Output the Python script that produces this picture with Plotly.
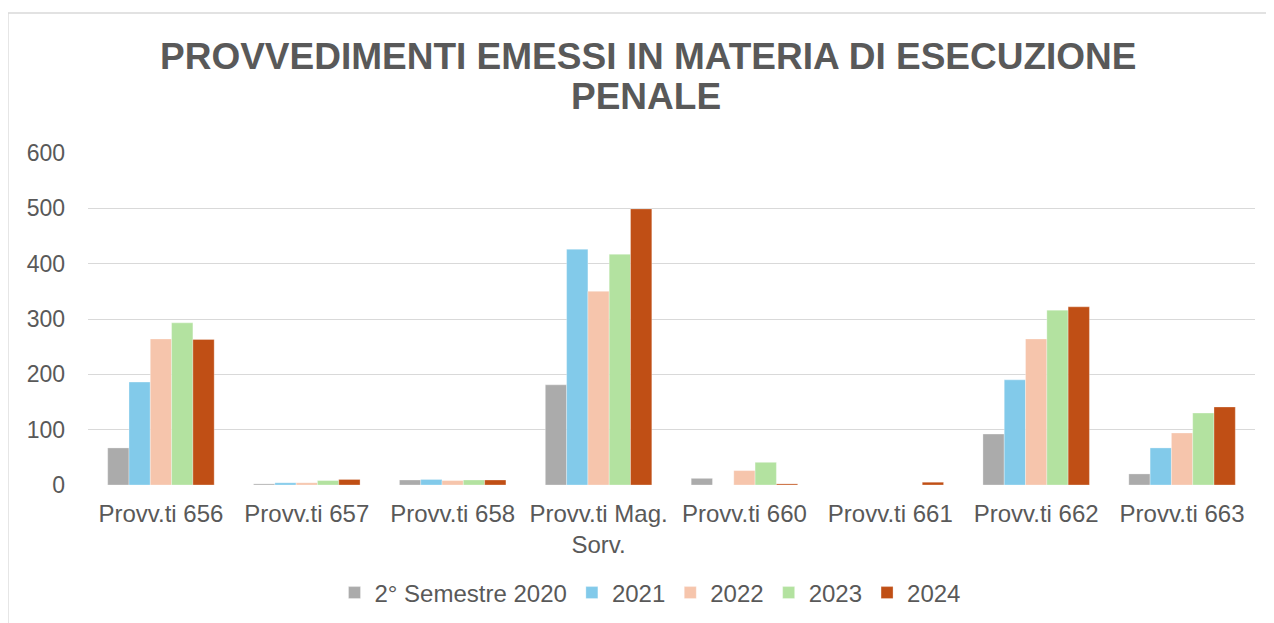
import plotly.graph_objects as go

categories = ["Provv.ti 656", "Provv.ti 657", "Provv.ti 658", "Provv.ti Mag.<br>Sorv.",
              "Provv.ti 660", "Provv.ti 661", "Provv.ti 662", "Provv.ti 663"]
series_names = ["2° Semestre 2020", "2021", "2022", "2023", "2024"]
s2020 = [67, 2, 9, 181, 12, 0, 92, 20]
s2021 = [186, 4, 10, 426, 0, 0, 190, 67]
s2022 = [264, 4, 8, 350, 26, 0, 264, 94]
s2023 = [293, 8, 9, 417, 41, 0, 316, 130]
s2024 = [263, 10, 9, 499, 2, 5, 322, 141]
values = [s2020, s2021, s2022, s2023, s2024]
colors = ["#ABABAB", "#82CAEA", "#F6C5AC", "#B3E2A0", "#C04F15"]
y_ticks = [0, 100, 200, 300, 400, 500, 600]
title_lines = ["PROVVEDIMENTI EMESSI IN MATERIA DI ESECUZIONE", "PENALE"]

FONT = "Liberation Sans, Arial, sans-serif"
TXT = "#595959"

fig = go.Figure()
for name, vals, col in zip(series_names, values, colors):
    fig.add_trace(go.Bar(x=categories, y=vals, name=name,
                         marker=dict(color=col, line=dict(color="rgba(255,255,255,0.6)", width=0.5))))

# page has an 8px body margin; work in figure pixels
OFF = 8
W, H = 1274 - OFF, 623 - OFF
L, R, T, B = 88 - OFF, W - (1255 - OFF), 153 - OFF, H - (485 - OFF)
ph = H - T - B
pw = W - L - R


def py(p):
    return (H - B - (p - OFF)) / ph


def px(p):
    return ((p - OFF) - L) / pw


annotations = [
    dict(text=f"<b>{title_lines[0]}</b>", x=px(648), y=py(57)),
    dict(text=f"<b>{title_lines[1]}</b>", x=px(646), y=py(97)),
]
for a in annotations:
    a.update(xref="paper", yref="paper", xanchor="center", yanchor="middle", showarrow=False,
             font=dict(family=FONT, size=37, color=TXT))

fig.update_layout(
    width=W, height=H,
    margin=dict(l=L, r=R, t=T, b=B, autoexpand=False),
    paper_bgcolor="white", plot_bgcolor="white",
    barmode="group", bargap=0.27, bargroupgap=0,
    font=dict(family=FONT, color=TXT, size=24),
    annotations=annotations,
    yaxis=dict(range=[0, 600], tickvals=y_ticks, showgrid=True, gridcolor="#D9D9D9",
               gridwidth=1.3, zeroline=False, showline=False, ticks="",
               ticklabelstandoff=22, tickfont=dict(size=23, color=TXT)),
    xaxis=dict(showline=False, ticks="", ticklabelstandoff=12, tickfont=dict(size=24, color=TXT)),
    legend=dict(orientation="h", x=px(650), xanchor="center", y=py(593), yanchor="middle",
                font=dict(size=24, color=TXT), traceorder="normal", itemwidth=30),
    shapes=[dict(type="rect", xref="paper", yref="paper",
                 x0=px(8), x1=px(1269), y0=py(640), y1=py(13),
                 line=dict(color="#D9D9D9", width=1.3), fillcolor="rgba(0,0,0,0)", layer="below")],
)

fig.write_html("out.html")
